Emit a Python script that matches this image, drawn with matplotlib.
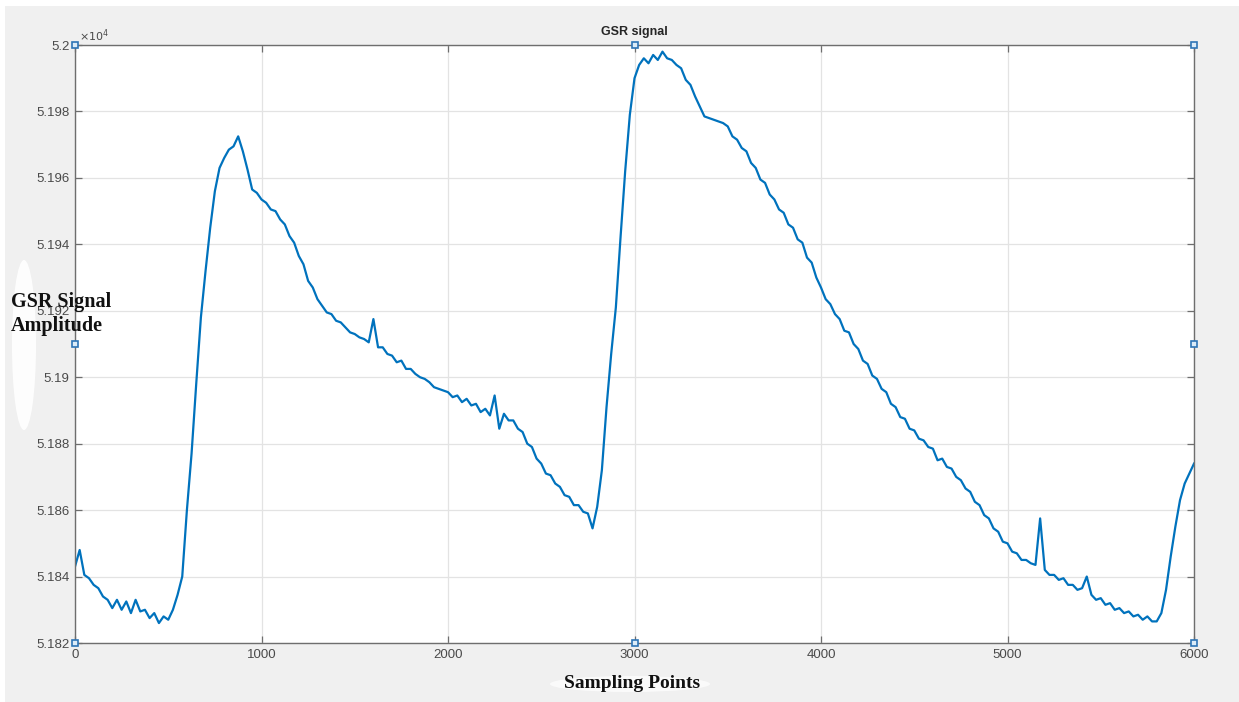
"""GSR signal trace, MATLAB-style figure look."""

import numpy as np
import matplotlib
matplotlib.use("Agg")
import matplotlib.pyplot as plt
from matplotlib.patches import Rectangle, Ellipse
from matplotlib.ticker import FuncFormatter

# sample index step of the read-off trace
sample_step = 25

# GSR amplitude, one value every 25 samples (0..6000)
gsr_values = [
    51843, 51848, 51840.5, 51839.5, 51837.5, 51836.5, 51834, 51833,
    51830.5, 51833, 51830, 51832.5, 51829, 51833, 51829.5, 51830,
    51827.5, 51829, 51826, 51828, 51827, 51830, 51834.5, 51840,
    51860, 51877, 51898, 51918, 51932, 51945, 51956, 51963,
    51966, 51968.5, 51969.5, 51972.5, 51968, 51962.5, 51956.5, 51955.5,
    51953.5, 51952.5, 51950.5, 51950, 51947.5, 51946, 51942.5, 51940.5,
    51936.5, 51934, 51929, 51927, 51923.5, 51921.5, 51919.5, 51919,
    51917, 51916.5, 51915, 51913.5, 51913, 51912, 51911.5, 51910.5,
    51917.5, 51909, 51909, 51907, 51906.5, 51904.5, 51905, 51902.5,
    51902.5, 51901, 51900, 51899.5, 51898.5, 51897, 51896.5, 51896,
    51895.5, 51894, 51894.5, 51892.5, 51893.5, 51891.5, 51892, 51889.5,
    51890.5, 51888.5, 51894.5, 51884.5, 51889, 51887, 51887, 51884.5,
    51883.5, 51880, 51879, 51875.5, 51874, 51871, 51870.5, 51868,
    51867, 51864.5, 51864, 51861.5, 51861.5, 51859.5, 51859, 51854.5,
    51861, 51872, 51891, 51907, 51921, 51942, 51962, 51979,
    51990, 51994, 51996, 51994.5, 51997, 51995.5, 51998, 51996,
    51995.5, 51994, 51993, 51989.5, 51988, 51984.5, 51981.5, 51978.5,
    51978, 51977.5, 51977, 51976.5, 51975.5, 51972.5, 51971.5, 51969,
    51968, 51964.5, 51963, 51959.5, 51958.5, 51955, 51953.5, 51950.5,
    51949.5, 51946, 51945, 51941.5, 51940.5, 51936, 51934.5, 51930,
    51927, 51923.5, 51922, 51919, 51917.5, 51914, 51913.5, 51910,
    51908.5, 51905, 51904, 51900.5, 51899.5, 51896.5, 51895.5, 51892,
    51891, 51888, 51887.5, 51884.5, 51884, 51881.5, 51881, 51879,
    51878.5, 51875, 51875.5, 51873, 51872.5, 51870, 51869, 51866.5,
    51865.5, 51862.5, 51861.5, 51858.5, 51857.5, 51854.5, 51853.5, 51850.5,
    51850, 51847.5, 51847, 51845, 51845, 51844, 51843.5, 51857.5,
    51842, 51840.5, 51840.5, 51839, 51839.5, 51837.5, 51837.5, 51836,
    51836.5, 51840, 51834.5, 51833, 51833.5, 51831.5, 51832, 51830,
    51830.5, 51829, 51829.5, 51828, 51828.5, 51827, 51828, 51826.5,
    51826.5, 51829, 51836, 51846, 51855, 51863, 51868, 51871,
    51874,
]
samples = np.arange(len(gsr_values)) * sample_step

x_ticks = [0, 1000, 2000, 3000, 4000, 5000, 6000]
y_ticks = [51820, 51840, 51860, 51880, 51900, 51920, 51940, 51960, 51980, 52000]

W, H = 1239, 702
fig = plt.figure(figsize=(W / 100, H / 100), dpi=100, facecolor="#f0f0f0")

# white scan margins and smudges
fig.add_artist(Rectangle((0, 1 - 6 / H), 1, 6 / H, transform=fig.transFigure,
                         facecolor="white", edgecolor="none"))
fig.add_artist(Rectangle((0, 0), 5 / W, 1, transform=fig.transFigure,
                         facecolor="white", edgecolor="none"))
fig.add_artist(Ellipse((24 / W, 1 - 345 / H), 24 / W, 170 / H, transform=fig.transFigure,
                       facecolor="white", edgecolor="none", alpha=0.9))
fig.add_artist(Ellipse((630 / W, 1 - 684 / H), 160 / W, 16 / H, transform=fig.transFigure,
                       facecolor="white", edgecolor="none", alpha=0.7))

ax = fig.add_axes([75 / W, 1 - 643 / H, (1194 - 75) / W, (643 - 45) / H])
ax.set_facecolor("white")
ax.plot(samples, gsr_values, color="#0072BD", linewidth=1.6)

ax.set_xlim(0, 6000)
ax.set_ylim(51820, 52000)
ax.set_xticks(x_ticks)
ax.set_yticks(y_ticks)
ax.yaxis.set_major_formatter(FuncFormatter(lambda v, p: f"{v / 1e4:g}"))
ax.grid(True, color="#e3e3e3", linewidth=0.9)
ax.set_axisbelow(True)
ax.tick_params(direction="in", length=5, width=0.9, color="#6e6e6e",
               top=True, right=True, labelsize=9.5, labelcolor="#4a4a4a", pad=4)
for lbl in ax.get_xticklabels() + ax.get_yticklabels():
    lbl.set_family("Liberation Sans")
for sp in ax.spines.values():
    sp.set_color("#6e6e6e")
    sp.set_linewidth(1.0)

# MATLAB edit handles
hx = [0, 0, 0, 0.5, 1, 1, 1, 0.5]
hy = [0, 0.5, 1, 1, 1, 0.5, 0, 0]
ax.plot(hx, hy, linestyle="none", marker="s", markersize=5, markerfacecolor="#dcecf8",
        markeredgecolor="#2e75b6", markeredgewidth=1.2, transform=ax.transAxes,
        clip_on=False, zorder=10)

fig.text(634 / W, 1 - 32 / H, "GSR signal", ha="center", va="center", fontsize=9,
         fontweight="bold", family="Liberation Sans", color="#262626")
fig.text(79 / W, 1 - 36 / H, r"$\times10^{4}$", ha="left", va="center", fontsize=8,
         color="#4a4a4a")
fig.text(11 / W, 1 - 314 / H, "GSR Signal\nAmplitude", ha="left", va="center",
         fontsize=14.5, fontweight="bold", family="Liberation Serif", color="#111111",
         linespacing=1.3)
fig.text(632 / W, 1 - 683 / H, "Sampling Points", ha="center", va="center",
         fontsize=14, fontweight="bold", family="Liberation Serif", color="#111111")

fig.savefig("out.png", dpi=100, facecolor=fig.get_facecolor())
